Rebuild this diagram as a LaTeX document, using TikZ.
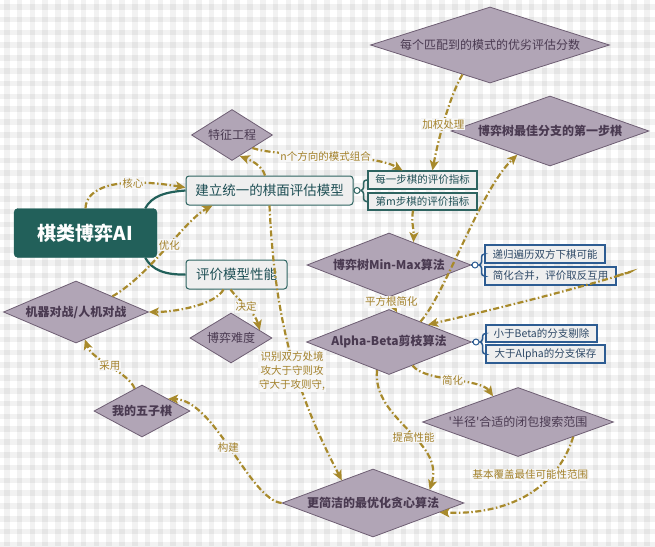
\documentclass[tikz,border=0pt]{standalone}
\usepackage{fontspec}
\setmainfont{Noto Sans CJK SC}[Ligatures=TeXOff]
\usetikzlibrary{shapes.geometric,arrows.meta}
\definecolor{tealD}{HTML}{22605A}
\definecolor{tealB}{HTML}{2E6461}
\definecolor{tealT}{HTML}{1E4F55}
\definecolor{boxF}{HTML}{EFEFEF}
\definecolor{blueB}{HTML}{2D5C92}
\definecolor{blueT}{HTML}{2D4866}
\definecolor{diaF}{HTML}{B1A5B6}
\definecolor{diaB}{HTML}{6E5E73}
\definecolor{diaT}{HTML}{4A3A51}
\definecolor{arrC}{HTML}{A88A2C}
\definecolor{lblC}{HTML}{A3812A}
\definecolor{lblBg}{HTML}{F6F6F6}
\begin{document}
\begin{tikzpicture}[x=1pt,y=-1pt,
  dia/.style={diamond,draw=diaB,fill=diaF,line width=0.8pt,inner sep=0pt,text=diaT,font=\fontsize{12}{14}\selectfont\bfseries},
  diaN/.style={dia,font=\fontsize{12}{14}\selectfont},
  mainbox/.style={draw=tealB,fill=boxF,rounded corners=3pt,line width=1pt,text=tealT,font=\fontsize{13.5}{16}\selectfont,inner sep=0pt},
  subT/.style={draw=tealB,fill=boxF,line width=1.2pt,text=tealT,font=\fontsize{10.5}{12}\selectfont,inner sep=0pt},
  subB/.style={subT,draw=blueB,text=blueT},
  conn/.style={draw=arrC,line width=2.2pt,dash pattern=on 6pt off 2.5pt on 1.5pt off 2.5pt,-{Stealth[length=10pt,width=9pt,inset=2.5pt]}},
  lbl/.style={font=\fontsize{10.5}{14}\selectfont,text=lblC,fill=lblBg,inner sep=1pt},
  knob/.style={circle,draw,fill=white,line width=1pt,minimum size=6pt,inner sep=0pt},
  trunk/.style={draw=tealD,line width=2.2pt},
]
\useasboundingbox (0,0) rectangle (655,546);
% gingham background
\fill[white] (0,0) rectangle (655,546);
\foreach \i in {0,...,51} { \fill[black,opacity=0.05] ({\i*12.8+4},0) rectangle ++(5.5,546); }
\foreach \i in {0,...,43} { \fill[black,opacity=0.05] (0,{\i*12.8+4}) rectangle ++(655,5.5); }

% boxes
\node[draw=tealD,fill=tealD,rounded corners=4pt,minimum width=143pt,minimum height=49pt,text=white,font=\fontsize{19}{22}\selectfont\bfseries] (cen) at (85.5,233) {棋类博弈AI};
\node[mainbox,minimum width=167pt,minimum height=29pt] (jl) at (269.5,190.5) {建立统一的棋面评估模型};
\node[mainbox,minimum width=101pt,minimum height=29pt] (pj) at (236.5,274.5) {评价模型性能};
\node[subT,minimum width=109pt,minimum height=18pt] (s1) at (422.5,180) {每一步棋的评价指标};
\node[subT,minimum width=109pt,minimum height=17pt] (s2) at (422.5,201.5) {第m步棋的评价指标};
\node[subB,minimum width=120pt,minimum height=18pt] (m1) at (545,254) {递归遍历双方下棋可能};
\node[subB,minimum width=131pt,minimum height=18pt] (m2) at (550.5,276) {简化合并，评价取反互用};
\node[subB,minimum width=111pt,minimum height=17pt] (a1) at (541.5,333.5) {小于Beta的分支剔除};
\node[subB,minimum width=119pt,minimum height=18pt] (a2) at (545.5,354) {大于Alpha的分支保存};

% diamonds
\node[diaN,aspect=1.59,minimum width=81pt,minimum height=51pt] (tz) at (232,135) {特征工程};
\node[diaN,aspect=3.14,minimum width=239pt,minimum height=76pt] (pg) at (490,45) {每个匹配到的模式的优劣评估分数};
\node[dia,aspect=2.83,minimum width=198pt,minimum height=70pt] (zj) at (550,131) {博弈树最佳分支的第一步棋};
\node[dia,aspect=2.56,minimum width=164pt,minimum height=64pt] (mm) at (389,265) {博弈树Min-Max算法};
\node[dia,aspect=2.54,minimum width=165pt,minimum height=65pt] (ab) at (389,342) {Alpha-Beta剪枝算法};
\node[dia,aspect=2.34,minimum width=145pt,minimum height=62pt] (jq) at (76,312) {机器对战/人机对战};
\node[diaN,aspect=1.64,minimum width=82pt,minimum height=50pt] (nd) at (231,338) {博弈难度};
\node[dia,aspect=1.85,minimum width=96pt,minimum height=52pt] (wz) at (142,411) {我的五子棋};
\node[diaN,aspect=2.77,minimum width=191pt,minimum height=69pt] (bj) at (518,422) {'半径'合适的闭包搜索范围};
\node[dia,aspect=2.68,minimum width=182pt,minimum height=68pt] (jj) at (373,503) {更简洁的最优化贪心算法};

% knobs and brackets
\node[knob,draw=tealB] (k1) at (357,190.5) {};
\node[knob,draw=blueB] (k2) at (475,265) {};
\node[knob,draw=blueB] (k3) at (476,342) {};
\draw[tealB,line width=1.2pt] (jl.east) -- (k1.west);
\draw[tealB,line width=1.5pt,rounded corners=3pt] (k1.east) -- ++(3,0) |- (s1.west);
\draw[tealB,line width=1.5pt,rounded corners=3pt] (k1.east) -- ++(3,0) |- (s2.west);
\draw[blueB,line width=1.2pt] (mm.east) -- (k2.west);
\draw[blueB,line width=1.5pt,rounded corners=3pt] (k2.east) -- ++(3,0) |- (m1.west);
\draw[blueB,line width=1.5pt,rounded corners=3pt] (k2.east) -- ++(3,0) |- (m2.west);
\draw[blueB,line width=1.2pt] (ab.east) -- (k3.west);
\draw[blueB,line width=1.5pt,rounded corners=3pt] (k3.east) -- ++(3,0) |- (a1.west);
\draw[blueB,line width=1.5pt,rounded corners=3pt] (k3.east) -- ++(3,0) |- (a2.west);

% trunk curves
\draw[trunk] ([xshift=-12pt]cen.north east) .. controls (152,196) and (165,192) .. (jl.west);
\draw[trunk] ([xshift=-12pt]cen.south east) .. controls (152,270) and (165,275) .. (pj.west);

% connectors
\draw[conn] (cen.north) .. controls (86,188) and (115,176) .. ([yshift=3pt]jl.west) node[lbl,pos=0.7]{核心};
\draw[conn] (jq.north east) .. controls (150,275) and (185,220) .. ([xshift=27pt]jl.south west) node[lbl,pos=0.53]{优化};
\draw[conn] ([xshift=-13pt]pj.south) .. controls (215,305) and (175,312) .. (jq.east);
\draw[conn] ([xshift=-6pt]pj.south) .. controls (238,300) and (255,312) .. (nd.15) node[lbl,pos=0.5]{决定};
\draw[conn] ([xshift=-4.5pt]jl.north) .. controls (262,165) and (250,160) .. (tz.-70);
\draw[conn] (tz.south east) .. controls (280,158) and (370,152) .. ([xshift=-20pt]s1.north) node[lbl,pos=0.5]{n个方向的模式组合};
\draw[conn] (pg.227) .. controls (450,95) and (438,140) .. ([xshift=10pt]s1.north) node[lbl,pos=0.55]{加权处理};
\draw[conn] ([xshift=-9.5pt]s2.south) .. controls (411,222) and (414,230) .. (mm.43);
\draw[conn] (mm.south) -- (ab.75) node[lbl,pos=0.3]{平方根简化};
\draw[conn] (ab.33) .. controls (445,295) and (480,190) .. (zj.216);
\draw[conn] (m2.east) .. controls (660,262) and (600,285) .. (ab.24);
\draw[conn] (jl.south) .. controls (275,330) and (300,400) .. (jj.144) node[lbl,pos=0.5,yshift=-12pt,align=center]{识别双方处境\\攻大于守则攻\\守大于攻则守,};
\draw[conn] (ab.247) .. controls (372,420) and (445,440) .. (jj.13) node[lbl,pos=0.57]{提高性能};
\draw[conn] (ab.-45) .. controls (425,382) and (480,378) .. (bj.134) node[lbl,pos=0.5]{简化};
\draw[conn] (bj.-15) .. controls (555,495) and (500,515) .. (jj.-8) node[lbl,pos=0.44,yshift=18pt]{基本覆盖最佳可能性范围};
\draw[conn] (jj.west) .. controls (250,500) and (215,400) .. (wz.25) node[lbl,pos=0.52]{构建};
\draw[conn] (wz.108) .. controls (128,372) and (92,360) .. (jq.-72) node[lbl,pos=0.5]{采用};
\end{tikzpicture}
\end{document}
